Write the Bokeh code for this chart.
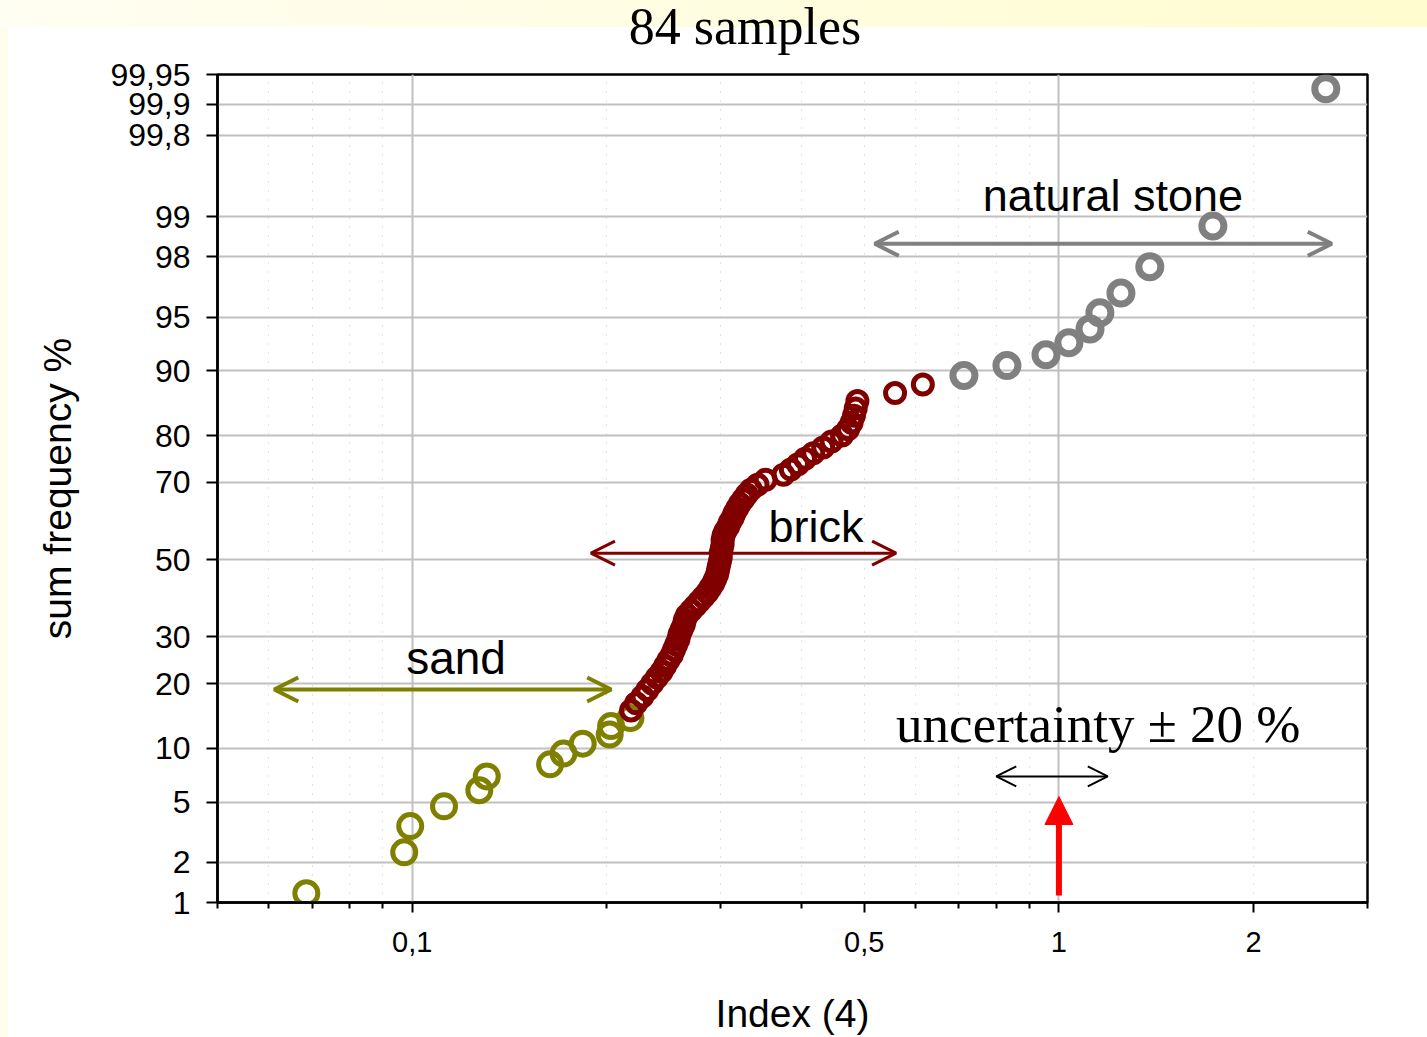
from statistics import NormalDist
from bokeh.plotting import figure
from bokeh.layouts import column
from bokeh.models import (Range1d, FixedTicker, CustomJSTickFormatter, Label,
                          Arrow, OpenHead, NormalHead, InlineStyleSheet, Div)
from bokeh.embed import file_html
from bokeh.resources import INLINE

_nd = NormalDist()


def probit(pct):
    return _nd.inv_cdf(pct / 100.0)


# ---------------- data ----------------
title_text = "84 samples"
x_label = "Index (4)"
y_label = "sum frequency %"

sand_x = [0.0686, 0.0972, 0.0993, 0.112, 0.127, 0.1304, 0.1634, 0.1714,
          0.1835, 0.202, 0.203, 0.2175]
sand_pct = [1.18, 2.35, 3.53, 4.71, 5.88, 7.06, 8.24, 9.41, 10.59, 11.76,
            12.94, 14.12]

brick_x = [0.218, 0.222, 0.227, 0.231, 0.235, 0.239, 0.243, 0.246, 0.249,
           0.252, 0.254, 0.256, 0.258, 0.259, 0.261, 0.263, 0.264, 0.266,
           0.270, 0.274, 0.278, 0.282, 0.286, 0.289, 0.292, 0.294, 0.296,
           0.297, 0.298, 0.299, 0.300, 0.300, 0.301, 0.302, 0.302, 0.303,
           0.305, 0.308, 0.310, 0.313, 0.315, 0.318, 0.321, 0.325, 0.329,
           0.334, 0.342, 0.352, 0.375, 0.385, 0.395, 0.405, 0.417, 0.432,
           0.445, 0.462, 0.472, 0.478, 0.482, 0.485, 0.488, 0.558, 0.616]
brick_pct = [15.29, 16.47, 17.65, 18.82, 20.00, 21.18, 22.35, 23.53, 24.71,
             25.88, 27.06, 28.24, 29.41, 30.59, 31.76, 32.94, 34.12, 35.29,
             36.47, 37.65, 38.82, 40.00, 41.18, 42.35, 43.53, 44.71, 45.88,
             47.06, 48.24, 49.41, 50.59, 51.76, 52.94, 54.12, 55.29, 56.47,
             57.65, 58.82, 60.00, 61.18, 62.35, 63.53, 64.71, 65.88, 67.06,
             68.24, 69.41, 70.59, 71.76, 72.94, 74.12, 75.29, 76.47, 77.65,
             78.82, 80.00, 81.18, 82.35, 83.53, 84.71, 85.88, 87.06, 88.24]

stone_x = [0.713, 0.831, 0.955, 1.036, 1.117, 1.157, 1.247, 1.382, 1.73, 2.586]
stone_pct = [89.41, 90.59, 91.76, 92.94, 94.12, 95.29, 96.47, 97.65, 98.82,
             99.93]

y_tick_pct = [1, 2, 5, 10, 20, 30, 50, 70, 80, 90, 95, 98, 99, 99.8, 99.9,
              99.95]
y_tick_labels = ["1", "2", "5", "10", "20", "30", "50", "70", "80", "90",
                 "95", "98", "99", "99,8", "99,9", "99,95"]
x_major_ticks = [0.1, 0.5, 1, 2]
x_major_labels = ["0,1", "0,5", "1", "2"]
x_minor_ticks = [0.05, 0.06, 0.07, 0.08, 0.09, 0.2, 0.3, 0.4, 0.6, 0.7, 0.8,
                 0.9, 3]
x_grid_major = [0.1, 1]
x_grid_minor = [0.06, 0.07, 0.08, 0.09, 0.2, 0.3, 0.4, 0.5, 0.6, 0.7, 0.8,
                0.9, 2]

SAND = "#808000"
BRICK = "#800000"
STONE = "#808080"

TITLE_H = 56

# ---------------- title strip ----------------
title_div = Div(
    text=('<div style="box-sizing:border-box; width:1427px; margin:0; '
          'padding-left:63px; padding-top:1px; text-align:center; '
          "font-family:'Liberation Serif'; font-size:52px; line-height:52px; "
          'color:#000000; white-space:nowrap;">' + title_text + '</div>'),
    width=1427, height=TITLE_H,
    stylesheets=[InlineStyleSheet(css=(
        ":host { margin:0; padding:0; background: "
        "linear-gradient(to right, #fffef2, #fffccf) top left / 100% 27px no-repeat, "
        "linear-gradient(#fffeee, #fffeee) top left / 8px 100% no-repeat, "
        "#ffffff; }"))])

# ---------------- figure ----------------
y_ticks = [probit(v) for v in y_tick_pct]

p = figure(width=1427, height=1037 - TITLE_H, x_axis_type="log",
           x_range=Range1d(0.05, 3),
           y_range=Range1d(probit(1), probit(99.95)),
           output_backend="svg", toolbar_location=None,
           min_border_left=217, min_border_right=60,
           min_border_top=74 - TITLE_H, min_border_bottom=135)

p.background_fill_color = "white"
p.border_fill_color = None
p.stylesheets = [InlineStyleSheet(css=(
    ":host { background: "
    "linear-gradient(#fffeee, #fffeee) top left / 8px 100% no-repeat, "
    "#ffffff; }"))]
p.outline_line_color = "black"
p.outline_line_width = 2.5

# axes
p.xaxis.ticker = FixedTicker(ticks=x_major_ticks, minor_ticks=x_minor_ticks)
p.xaxis.formatter = CustomJSTickFormatter(
    args=dict(tvals=x_major_ticks, tlabels=x_major_labels),
    code="""
for (let i = 0; i < tvals.length; i++) {
  if (Math.abs(tvals[i] - tick) < 1e-9) return tlabels[i];
}
return '';
""")
p.yaxis.ticker = FixedTicker(ticks=y_ticks)
p.yaxis.formatter = CustomJSTickFormatter(
    args=dict(tvals=y_ticks, tlabels=y_tick_labels),
    code="""
for (let i = 0; i < tvals.length; i++) {
  if (Math.abs(tvals[i] - tick) < 1e-6) return tlabels[i];
}
return '';
""")

for ax in (p.xaxis, p.yaxis):
    ax.axis_line_color = "black"
    ax.axis_line_width = 2.5
    ax.major_tick_line_color = "black"
    ax.major_tick_line_width = 2
    ax.major_tick_in = 0
    ax.major_tick_out = 11
    ax.minor_tick_line_color = "black"
    ax.minor_tick_line_width = 2
    ax.minor_tick_in = 0
    ax.minor_tick_out = 6
    ax.major_label_text_font = "Liberation Sans"
    ax.major_label_text_font_size = "32px"
    ax.major_label_text_color = "black"
    ax.axis_label_text_font = "Liberation Sans"
    ax.axis_label_text_font_style = "normal"
    ax.axis_label_text_color = "black"

p.xaxis.major_label_text_font_size = "29px"
p.xaxis.major_tick_out = 10
p.yaxis.minor_tick_line_color = None
p.xaxis.major_label_standoff = 19
p.yaxis.major_label_standoff = 16
p.xaxis.axis_label = x_label
p.xaxis.axis_label_text_font_size = "39px"
p.xaxis.axis_label_standoff = 37
p.yaxis.axis_label = y_label
p.yaxis.axis_label_text_font_size = "39px"
p.yaxis.axis_label_standoff = 28

# grids
p.xgrid.ticker = FixedTicker(ticks=x_grid_major, minor_ticks=x_grid_minor)
p.xgrid.grid_line_color = "#c0c0c0"
p.xgrid.grid_line_width = 2
p.xgrid.minor_grid_line_color = "#c8c8c8"
p.xgrid.minor_grid_line_width = 1
p.xgrid.minor_grid_line_dash = "1 8"
p.ygrid.grid_line_color = "#c0c0c0"
p.ygrid.grid_line_width = 2

# ---------------- points ----------------
p.scatter(sand_x, [probit(v) for v in sand_pct], marker="circle", size=23,
          fill_color=None, line_color=SAND, line_width=5)
p.scatter(brick_x, [probit(v) for v in brick_pct], marker="circle", size=19,
          fill_color=None, line_color=BRICK, line_width=5)
p.scatter(stone_x, [probit(v) for v in stone_pct], marker="circle", size=22,
          fill_color=None, line_color=STONE, line_width=7)

# ---------------- annotations ----------------
def double_arrow(x0, x1, pct, color, width, head):
    y = probit(pct)
    p.add_layout(Arrow(
        start=OpenHead(size=head, line_color=color, line_width=width),
        end=OpenHead(size=head, line_color=color, line_width=width),
        x_start=x0, y_start=y, x_end=x1, y_end=y,
        line_color=color, line_width=width))


double_arrow(0.519, 2.642, 98.39, STONE, 4, 24)
double_arrow(0.189, 0.560, 51.73, BRICK, 3, 24)
double_arrow(0.0612, 0.2031, 18.92, SAND, 4, 24)
double_arrow(0.80, 1.19, 7.06, "black", 2, 20)

p.add_layout(Arrow(end=NormalHead(size=28, fill_color="red", line_color="red",
                                  line_width=1),
                   x_start=1, y_start=probit(1.134), x_end=1, y_end=probit(5.40),
                   line_color="red", line_width=6))


def label(x, pct, text, font, size):
    p.add_layout(Label(x=x, y=probit(pct), text=text, text_font=font,
                       text_font_size=size, text_color="black",
                       text_align="center", text_baseline="alphabetic"))


label(1.212, 99.329, "natural stone", "Liberation Sans", "45px")
label(0.4211, 58.89, "brick", "Liberation Sans", "45px")
label(0.1169, 25.11, "sand", "Liberation Sans", "46px")
label(1.178, 13.30, "uncertainty  \u00b1 20 %", "Liberation Serif", "53px")

layout = column(title_div, p, spacing=0)

open("out.html", "w").write(file_html(layout, INLINE))
